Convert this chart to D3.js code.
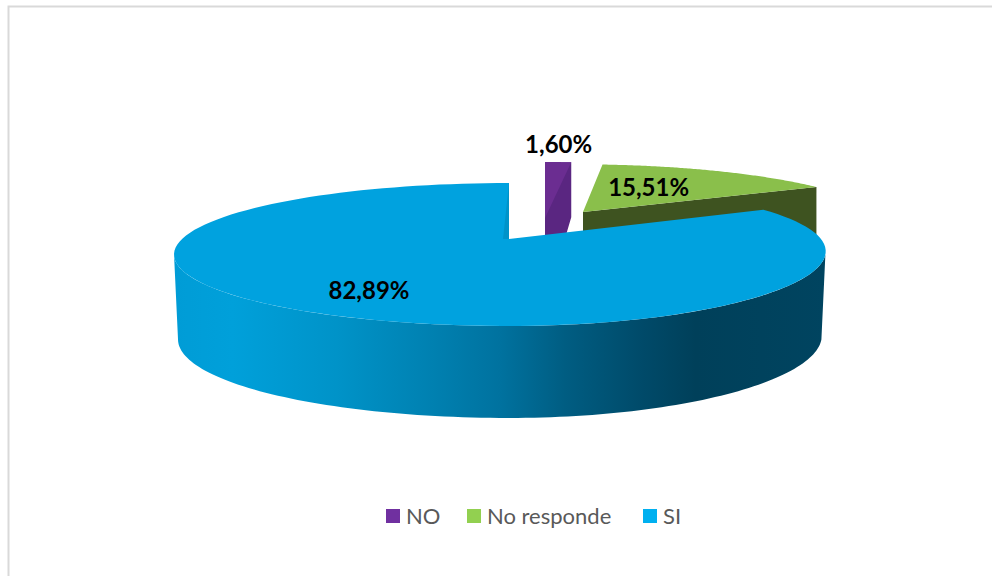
<!DOCTYPE html>
<html>
<head>
<meta charset="utf-8">
<script src="https://cdnjs.cloudflare.com/ajax/libs/d3/7.8.5/d3.min.js"></script>
<style>
  html, body { margin: 0; padding: 0; background: #fff; }
  svg { display: block; }
  text { font-family: Lato, "Open Sans", sans-serif; }
</style>
</head>
<body>
<svg id="chart" width="992" height="576"></svg>
<script>
// Survey answers, in percent
const categories = ["NO", "No responde", "SI"];
const shares = [1.60, 15.51, 82.89];
const topColors = ["#6b2d91", "#8abf4b", "#00a2df"];
const legendColors = ["#7030a0", "#92d050", "#00b0f0"];

const svg = d3.select("#chart");
const formatShare = v => d3.format(".2f")(v).replace(".", ",") + "%";

// Outer frame
svg.append("path")
  .attr("d", "M8.5,576V6.5H992")
  .attr("fill", "none").attr("stroke", "#d9d9d9").attr("stroke-width", 2);

const slices = d3.pie().sort(null).value(d => d)(shares);

// Perspective of the tilted disc: the far side is foreshortened
const tilt = -0.217;

// Each slice is pulled away from the centre, with its own apex and radius
const placement = [
  { x: 545, y: 218, left: 318, right: 318, lean: 0, depth: 68.1, shear: 0 },
  { x: 583, y: 212, left: 296, right: 296, lean: 0, depth: 58, shear: 6 },
  { x: 509, y: 239, left: 327, right: 312, lean: -14.5, depth: 68.1, shear: 0 }
];

function project(p, angle, r = 1) {
  const u = Math.sin(angle) * r, v = -Math.cos(angle) * r;
  const w = 1 + tilt * v;
  const a = u < 0 ? p.left : p.right + p.lean * v;
  return [p.x + (a * u + p.shear * v) / w, p.y + p.depth * v / w];
}

function rim(p, start, end) {
  return d3.range(0, 121).map(i => project(p, start + (end - start) * i / 120));
}

const line = d3.line();
const closed = pts => line(pts) + "Z";

// Purple slice: narrow top face and the side wall behind it
{
  const s = slices[0], p = placement[0];
  const arc = rim(p, s.startAngle, s.endAngle);
  const last = arc[arc.length - 1];
  svg.append("path")
    .attr("d", closed([[p.x, p.y], ...arc, [last[0], last[1] + 55], [last[0] - 5, last[1] + 72], [p.x, p.y + 40]]))
    .attr("fill", "#5a2681");
  svg.append("path").attr("d", closed([[p.x, p.y], ...arc])).attr("fill", topColors[0]);
}

// Green slice: cut wall first, then the top face
{
  const s = slices[1], p = placement[1];
  const arc = rim(p, s.startAngle, s.endAngle);
  const last = arc[arc.length - 1];
  const wall = 52;
  svg.append("path")
    .attr("d", closed([[p.x, p.y], last, [last[0], last[1] + wall], [p.x, p.y + wall]]))
    .attr("fill", "#3e5320");
  svg.append("path").attr("d", closed([[p.x, p.y], ...arc])).attr("fill", topColors[1]);
}

// Blue slice: shaded outer wall between the top rim and a slightly wider lower rim
{
  const s = slices[2], p = placement[2];
  const arc = rim(p, s.startAngle, s.endAngle);

  // The wall is only seen between the two horizontal extremes of the disc
  const frontStart = Math.acos(tilt);
  const front = rim(p, frontStart, 2 * Math.PI - frontStart);
  const lower = front.map(([x, y]) => [500 + (x - 500) * 322 / 326, 340 + (y - 255) * 78 / 71]);

  const shade = svg.append("defs").append("linearGradient")
    .attr("id", "wallShade").attr("gradientUnits", "userSpaceOnUse")
    .attr("x1", 174).attr("x2", 826).attr("y1", 0).attr("y2", 0);
  [[0, "#009cd6"], [0.09, "#00a0da"], [0.25, "#0093c8"], [0.4, "#0080b0"],
   [0.5, "#00729f"], [0.6, "#005d82"], [0.72, "#004a69"], [0.8, "#00405a"], [1, "#004460"]]
    .forEach(([o, c]) => shade.append("stop").attr("offset", o).attr("stop-color", c));

  svg.append("path")
    .attr("d", closed([...front, ...lower.slice().reverse()]))
    .attr("fill", "url(#wallShade)");
  svg.append("path").attr("d", closed([[p.x, p.y], ...arc])).attr("fill", topColors[2]);

  // Thin sliver of the cut face beside the apex
  const end = arc[arc.length - 1];
  svg.append("path")
    .attr("d", closed([[p.x, p.y], end, [p.x - 6, p.y]]))
    .attr("fill", "#0093c9");
}

// Value labels, anchored on each slice's mid angle
const labelAnchors = [
  { r: 1.45, dx: -4, dy: 1 },
  { r: 0.55, dx: -14, dy: -1 },
  { r: 0.75, dx: 6, dy: -1 }
];
slices.forEach((s, i) => {
  const [x, y] = project(placement[i], (s.startAngle + s.endAngle) / 2, labelAnchors[i].r);
  svg.append("text")
    .attr("x", x + labelAnchors[i].dx).attr("y", y + labelAnchors[i].dy)
    .attr("text-anchor", "middle").attr("dominant-baseline", "central")
    .attr("font-size", 24).attr("font-weight", 700).attr("fill", "#000")
    .text(formatShare(shares[i]));
});

// Legend along the bottom
const legendX = d3.scaleOrdinal().domain(categories).range([386, 467, 643]);
const legend = svg.append("g").selectAll("g").data(categories).join("g")
  .attr("transform", d => `translate(${legendX(d)},509)`);
legend.append("rect").attr("width", 14).attr("height", 14)
  .attr("fill", (d, i) => legendColors[i]);
legend.append("text").attr("x", 20).attr("y", 6)
  .attr("dominant-baseline", "central")
  .attr("font-size", 22).attr("fill", "#595959")
  .text(d => d);
</script>
</body>
</html>
